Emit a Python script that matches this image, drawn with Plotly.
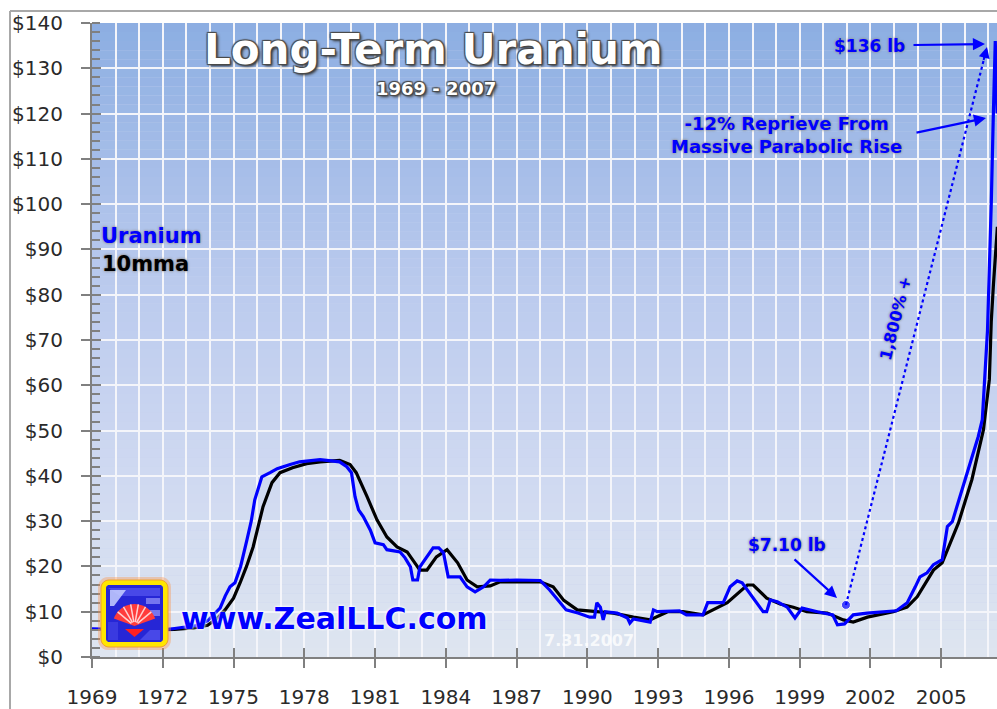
import math
import plotly.graph_objects as go

# ---------------- data ----------------
uranium_years = [
    1969.0, 1969.5, 1970.0, 1971.0, 1972.0, 1972.5, 1973.0, 1973.5, 1973.9, 1974.2,
    1974.43, 1974.65, 1974.85, 1975.06, 1975.3, 1975.57, 1975.75, 1975.9, 1976.05, 1976.2,
    1976.55, 1976.85, 1977.4, 1977.8, 1978.67, 1979.5, 1979.8, 1980.0, 1980.15, 1980.3,
    1980.5, 1980.8, 1981.0, 1981.35, 1981.5, 1982.06, 1982.27, 1982.5, 1982.6, 1982.8,
    1982.9, 1983.2, 1983.46, 1983.7, 1983.9, 1984.1, 1984.6, 1984.9, 1985.24, 1985.6,
    1985.88, 1986.3, 1987.0, 1988.0, 1988.4, 1989.1, 1989.6, 1990.1, 1990.3, 1990.4,
    1990.55, 1990.67, 1990.76, 1991.26, 1991.7, 1991.8, 1991.95, 1992.66, 1992.8, 1992.96,
    1993.9, 1994.2, 1994.9, 1995.1, 1995.76, 1996.05, 1996.35, 1996.56, 1997.0, 1997.45,
    1997.6, 1997.75, 1998.05, 1998.47, 1998.8, 1999.1, 1999.75, 2000.4, 2000.6, 2000.9,
    2001.27, 2001.85, 2003.1, 2003.56, 2003.9, 2004.1, 2004.4, 2004.67, 2005.04, 2005.26,
    2005.47, 2005.94, 2006.23, 2006.57, 2006.74, 2006.96, 2007.04, 2007.12, 2007.2, 2007.29,
    2007.37,
]
uranium_price = [
    6.2, 6.2, 6.1, 6.0, 6.0, 6.3, 6.6, 7.0, 8.0, 9.5,
    10.8, 13.5, 15.5, 16.4, 20.0, 25.9, 30.0, 34.7, 37.0, 39.8,
    40.7, 41.6, 42.5, 43.1, 43.6, 43.1, 42.0, 40.7, 35.4, 32.5,
    31.0, 28.0, 25.2, 24.8, 23.7, 23.2, 21.9, 19.9, 17.0, 17.0,
    19.9, 22.1, 24.1, 24.1, 23.0, 17.7, 17.7, 15.5, 14.4, 15.5,
    17.0, 16.9, 17.0, 16.9, 14.8, 10.4, 9.7, 8.8, 8.8, 12.0,
    11.0, 8.2, 10.0, 9.7, 8.6, 7.5, 8.4, 7.7, 10.4, 10.0,
    10.2, 9.3, 9.3, 12.0, 12.0, 15.5, 16.8, 16.4, 13.3, 10.0,
    10.0, 12.6, 12.2, 11.0, 8.6, 10.8, 10.0, 9.3, 7.1, 7.3,
    9.3, 9.7, 10.2, 12.0, 15.5, 17.7, 18.6, 20.4, 21.5, 28.8,
    29.9, 37.6, 42.9, 48.7, 52.4, 72.0, 85.0, 100.0, 118.0, 136.0,
    120.0,
]

mma_years = [
    1969.75, 1970.5, 1971.5, 1972.5, 1973.3, 1973.9, 1974.3, 1974.64, 1975.0, 1975.28,
    1975.55, 1975.83, 1976.05, 1976.25, 1976.63, 1976.97, 1977.5, 1978.1, 1978.67, 1979.5,
    1979.94, 1980.2, 1980.66, 1981.08, 1981.5, 1981.93, 1982.36, 1982.7, 1982.9, 1983.2,
    1983.6, 1984.05, 1984.5, 1984.9, 1985.33, 1985.88, 1986.3, 1988.0, 1988.55, 1989.0,
    1989.57, 1990.4, 1991.1, 1991.95, 1992.66, 1993.4, 1994.06, 1994.9, 1995.93, 1996.78,
    1997.03, 1997.6, 1998.17, 1998.73, 1999.3, 2000.17, 2000.85, 2001.27, 2001.87, 2002.97,
    2003.55, 2003.98, 2004.67, 2005.04, 2005.73, 2006.3, 2006.79, 2007.04, 2007.12, 2007.21,
    2007.29, 2007.38,
]
mma_price = [
    6.2, 6.1, 6.0, 6.1, 6.4, 7.0, 8.5, 10.4, 13.0, 16.4,
    20.0, 24.3, 29.0, 33.2, 38.5, 40.7, 41.8, 42.7, 43.1, 43.4,
    42.5, 40.7, 35.4, 30.3, 26.5, 24.3, 23.2, 20.8, 19.2, 19.2,
    22.1, 23.7, 20.8, 17.0, 15.5, 15.7, 16.6, 16.6, 15.5, 12.5,
    10.4, 10.0, 9.7, 8.8, 8.2, 10.0, 10.0, 9.3, 12.0, 15.9,
    15.9, 13.0, 11.7, 11.0, 10.0, 9.7, 8.2, 7.7, 8.8, 10.0,
    11.0, 13.3, 19.2, 20.8, 29.6, 39.2, 50.2, 61.3, 74.0, 82.0,
    89.0, 95.0,
]

low_point = (2000.96, 11.5)      # $7.10 low marker (drawn above the line)
high_point = (2006.94, 134.7)    # $136 high
y_ticks = [0, 10, 20, 30, 40, 50, 60, 70, 80, 90, 100, 110, 120, 130, 140]
y_tick_labels = ["$" + str(v) for v in y_ticks]
x_ticks = [1969, 1972, 1975, 1978, 1981, 1984, 1987, 1990, 1993, 1996, 1999, 2002, 2005]

# ---------------- geometry helpers ----------------
W, H = 997, 709
PL, PR, PT, PB = 92, 997, 23, 657      # plot area in page pixels
PXY = 23.59                            # pixels per year
X0 = 1969.0
X1 = X0 + (PR - PL) / PXY


def px2x(px):
    return (px - PL) / (PR - PL)


def py2y(py):
    return (PB - py) / (PB - PT)


def dx(px):
    return X0 + (px - PL) / PXY


def dy(py):
    return (PB - py) * 140.0 / (PB - PT)


BLUE = "#0000ff"
fig = go.Figure()

fig.add_trace(go.Scatter(x=mma_years, y=mma_price, mode="lines",
                         line=dict(color="#000000", width=3.2), hoverinfo="skip",
                         name="10mma"))
fig.add_trace(go.Scatter(x=uranium_years, y=uranium_price, mode="lines",
                         line=dict(color=BLUE, width=3.2), hoverinfo="skip",
                         name="Uranium"))
fig.add_trace(go.Scatter(x=[low_point[0], high_point[0]], y=[low_point[1], high_point[1]],
                         mode="lines+markers",
                         line=dict(color=BLUE, width=2.2, dash="dot"),
                         marker=dict(size=[9, 0], color=BLUE),
                         hoverinfo="skip", name="move"))

# ---------------- background gradient ----------------
stops = [(0, (222, 229, 240)), (40, (207, 217, 241)), (80, (188, 203, 238)),
         (110, (165, 189, 232)), (140, (140, 174, 226))]


def grad(v):
    for (a, ca), (b, cb) in zip(stops[:-1], stops[1:]):
        if a <= v <= b:
            t = (v - a) / (b - a)
            return tuple(int(round(ca[i] + (cb[i] - ca[i]) * t)) for i in range(3))
    return stops[-1][1]


shapes = []
step = 2
for k in range(0, 140, step):
    c = grad(k + step / 2)
    shapes.append(dict(type="rect", xref="paper", yref="y", x0=0, x1=1, y0=k, y1=k + step,
                       fillcolor="rgb(%d,%d,%d)" % c, line=dict(width=0), layer="below"))

# outer frame lines (top and left)
shapes.append(dict(type="line", xref="paper", yref="paper", x0=px2x(10), x1=px2x(1000),
                   y0=py2y(11), y1=py2y(11), line=dict(color="#a8a8a8", width=2)))
shapes.append(dict(type="line", xref="paper", yref="paper", x0=px2x(10), x1=px2x(10),
                   y0=py2y(11), y1=py2y(712), line=dict(color="#a8a8a8", width=2)))


# ---------------- logo ----------------
def rounded_rect(x0, y0, x1, y1, r, n=6):
    pts = []
    corners = [(x1 - r, y0 + r, -90), (x1 - r, y1 - r, 0), (x0 + r, y1 - r, 90), (x0 + r, y0 + r, 180)]
    for cx, cy, a0 in corners:
        for i in range(n + 1):
            a = math.radians(a0 + 90 * i / n)
            pts.append((cx + r * math.cos(a), cy + r * math.sin(a)))
    return pts


def path_of(pts):
    s = "M %.5f,%.5f" % (px2x(pts[0][0]), py2y(pts[0][1]))
    for p in pts[1:]:
        s += " L %.5f,%.5f" % (px2x(p[0]), py2y(p[1]))
    return s + " Z"


def add_poly(pts, fill, line_color=None, lw=0, opacity=1.0):
    shapes.append(dict(type="path", xref="paper", yref="paper", path=path_of(pts),
                       fillcolor=fill, opacity=opacity,
                       line=dict(color=line_color or fill, width=lw)))


add_poly(rounded_rect(98, 577, 171, 650, 10), "rgba(255,140,60,0.35)")
add_poly(rounded_rect(101, 580, 168, 647, 8), "#ffe600", "#f0a030", 1)
add_poly(rounded_rect(106, 585, 163, 642, 3), "#2626d6")
# Z stripes
add_poly([(108, 588), (160, 588), (160, 596), (120, 596)], "#4848e8")
add_poly([(110, 590), (126, 590), (114, 606), (110, 606)], "#c8d0ff", opacity=0.85)
add_poly([(150, 630), (160, 630), (160, 640), (140, 640)], "#4848e8")
add_poly([(108, 622), (118, 622), (118, 640), (108, 640)], "#3a3ae0")
add_poly([(146, 598), (160, 598), (160, 604), (146, 604)], "#8a8af5", opacity=0.8)
add_poly([(146, 610), (160, 610), (160, 616), (146, 616)], "#8a8af5", opacity=0.8)
# red fan
cx, cy, rr = 134.5, 626, 22
fan = [(cx, cy)]
for i in range(21):
    a = math.radians(200 + 140 * i / 20)
    fan.append((cx + rr * math.cos(a), cy + rr * math.sin(a)))
add_poly(fan, "#ff3b3b")
for i in range(1, 7):
    a = math.radians(200 + 140 * i / 7)
    shapes.append(dict(type="line", xref="paper", yref="paper",
                       x0=px2x(cx + 4 * math.cos(a)), y0=py2y(cy + 4 * math.sin(a)),
                       x1=px2x(cx + rr * math.cos(a)), y1=py2y(cy + rr * math.sin(a)),
                       line=dict(color="#ffd0d0", width=1.5)))
add_poly([(125, 629), (144, 629), (134.5, 637)], "#ff2020")

# ---------------- annotations ----------------
ann = []
GLOW_GRAY = "0px 0px 3px #8a8a8a, 0px 0px 2px #a0a0a0"
OUTLINE = ("-1px -1px 1px #4a4a4a, 1px -1px 1px #4a4a4a, -1px 1px 1px #4a4a4a, "
           "1px 1px 1px #4a4a4a, 2px 2px 3px #333")


def text(px, py, s, size, color, shadow, xanchor="center", angle=0, family="DejaVu Sans"):
    ann.append(dict(x=px2x(px), y=py2y(py), xref="paper", yref="paper", text=s,
                    showarrow=False, xanchor=xanchor, yanchor="middle", textangle=angle,
                    font=dict(family=family, size=size, color=color, weight="bold",
                              shadow=shadow)))


text(433, 50, "Long-Term Uranium", 42, "#ffffff", OUTLINE)
text(436, 88, "1969 - 2007", 18, "#ffffff", OUTLINE)
text(99, 236, "Uranium", 21, BLUE, GLOW_GRAY, xanchor="left")
text(100, 264, "10mma", 21, "#000000", GLOW_GRAY, xanchor="left")
text(869, 46, "$136 lb", 17, BLUE, GLOW_GRAY)
text(786, 135, "-12% Reprieve From<br>Massive Parabolic Rise", 18, BLUE, GLOW_GRAY)
text(787, 545, "$7.10 lb", 17, BLUE, GLOW_GRAY)
text(895, 318, "1,800% +", 16, BLUE, GLOW_GRAY, angle=-76)
text(334, 618, "www.ZealLLC.com", 30, BLUE, "0px 0px 3px #ffffff, 0px 0px 3px #ffffff")
text(589, 640, "7.31.2007", 16, "rgba(255,255,255,0.8)", "none")


def arrow(tail, head):
    ann.append(dict(x=dx(head[0]), y=dy(head[1]), ax=dx(tail[0]), ay=dy(tail[1]),
                    xref="x", yref="y", axref="x", ayref="y", text="", showarrow=True,
                    arrowhead=2, arrowsize=1.1, arrowwidth=2.2, arrowcolor=BLUE))


arrow((912, 45), (985, 44))
arrow((915, 133), (986, 118))
arrow((793, 558), (837, 598))
# arrowhead on dotted line
ann.append(dict(x=high_point[0], y=high_point[1], ax=high_point[0] - 0.16, ay=high_point[1] - 3.2,
                xref="x", yref="y", axref="x", ayref="y", text="", showarrow=True,
                arrowhead=2, arrowsize=1.1, arrowwidth=2, arrowcolor=BLUE))

# ---------------- layout ----------------
tickfont = dict(family="DejaVu Sans", size=20, color="#2a2a2a")
fig.update_layout(
    template="none",
    width=W, height=H,
    margin=dict(l=PL, r=W - PR, t=PT, b=H - PB, pad=0, autoexpand=False),
    paper_bgcolor="#ffffff", plot_bgcolor="#c8d3ee",
    showlegend=False,
    shapes=shapes, annotations=ann,
    xaxis=dict(range=[X0, X1], tickmode="array", tickvals=x_ticks,
               ticktext=[str(v) for v in x_ticks], tickfont=tickfont,
               ticks="outside", ticklen=9, tickwidth=2, tickcolor="#808080",
               showline=True, linecolor="#808080", linewidth=2,
               showgrid=True, gridcolor="#f4f5fa", gridwidth=2,
               minor=dict(tickmode="linear", dtick=1, tick0=1969, showgrid=True,
                          gridcolor="#f4f5fa", gridwidth=2, ticks=""),
               ticklabelstandoff=12, zeroline=False, fixedrange=True, automargin=False),
    yaxis=dict(range=[0, 140], tickmode="array", tickvals=y_ticks, ticktext=y_tick_labels,
               tickfont=tickfont, ticks="outside", ticklen=9, tickwidth=2, tickcolor="#808080",
               showline=True, linecolor="#808080", linewidth=2,
               showgrid=True, gridcolor="#f4f5fa", gridwidth=2,
               minor=dict(tickmode="linear", dtick=2, tick0=0, ticks="inside", ticklen=8,
                          tickwidth=1.5, tickcolor="#808080", showgrid=False),
               ticklabelstandoff=14, zeroline=False, fixedrange=True, automargin=False),
    xaxis2=dict(overlaying="x", anchor="y", side="bottom", range=[X0, X1],
                tickmode="array", tickvals=x_ticks, ticks="inside", ticklen=9, tickwidth=2,
                tickcolor="#808080", showticklabels=False, showgrid=False, zeroline=False,
                showline=False, automargin=False),
    yaxis2=dict(overlaying="y", anchor="x", side="left", range=[0, 140],
                tickmode="array", tickvals=y_ticks, ticks="inside", ticklen=9, tickwidth=2,
                tickcolor="#808080", showticklabels=False, showgrid=False, zeroline=False,
                showline=False, automargin=False),
)
# invisible trace so that the overlay axes render
fig.add_trace(go.Scatter(x=[X0], y=[0], xaxis="x2", yaxis="y2", mode="markers",
                         marker=dict(opacity=0), hoverinfo="skip"))

fig.write_html(
    "out.html",
    config={"displayModeBar": False},
    post_script=("document.body.style.margin='0';"
                 "document.body.style.overflow='hidden';"
                 "document.documentElement.style.overflow='hidden';"),
)
